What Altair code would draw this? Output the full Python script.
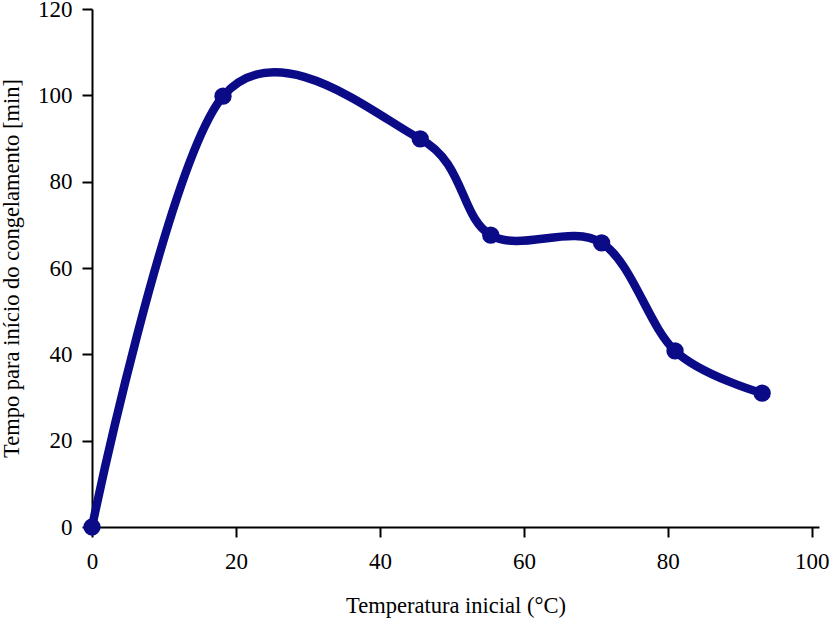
import altair as alt
import pandas as pd

temps = [0, 18.2, 45.6, 55.4, 70.8, 81.0, 93.1]
tempo = [0, 99.8, 89.9, 67.6, 65.8, 40.8, 31.0]

df = pd.DataFrame({"t": temps, "m": tempo})

color = "#0b0b88"
FONT = "Liberation Serif"

x = alt.X("t:Q", scale=alt.Scale(domain=[0, 101], nice=False),
          axis=alt.Axis(title="Temperatura inicial (°C)", values=[0, 20, 40, 60, 80, 100],
                        grid=False, tickSize=10, labelPadding=13, titlePadding=21,
                        labelFlush=False))
y = alt.Y("m:Q", scale=alt.Scale(domain=[0, 120], nice=False),
          axis=alt.Axis(title="Tempo para início do congelamento [min]",
                        values=[0, 20, 40, 60, 80, 100, 120],
                        grid=False, tickSize=10, labelPadding=10, titlePadding=14,
                        labelFlush=False))

line = alt.Chart(df).mark_line(interpolate="cardinal", color=color, strokeWidth=8.5,
                               clip=False, strokeCap="round").encode(x=x, y=y)
pts = alt.Chart(df).mark_circle(color=color, size=300, opacity=1, clip=False).encode(x=x, y=y)

chart = (line + pts).properties(
    width=727, height=518,
    autosize=alt.AutoSizeParams(type="none"),
    padding={"left": 92, "top": 9, "right": 21, "bottom": 94},
    background="white",
).configure_view(stroke=None).configure_axis(
    domainColor="black", domainWidth=2, tickColor="black", tickWidth=2,
    labelFont=FONT, labelFontSize=23, labelColor="black",
    titleFont=FONT, titleFontSize=22.5, titleFontWeight="normal", titleColor="black",
)

chart.save("out.html", embed_options={"renderer": "svg", "actions": False})
